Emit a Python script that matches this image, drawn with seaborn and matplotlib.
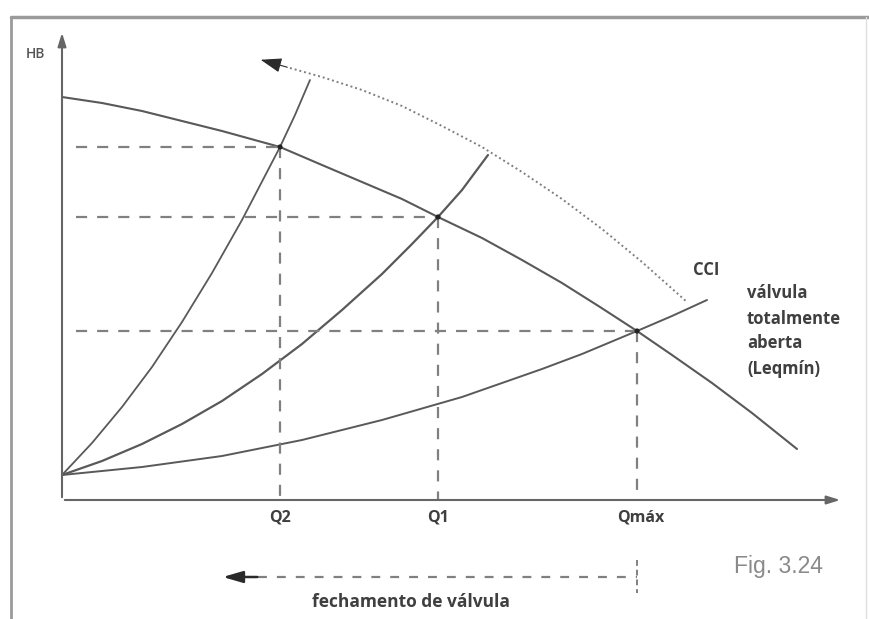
"""Curva da bomba x curvas do sistema (fechamento de válvula)"""

import matplotlib.pyplot as plt
import numpy as np
import pandas as pd
import seaborn as sns
from matplotlib.lines import Line2D

# curva da bomba HB(Q) (unidades arbitrarias)
pump_q = [0, 4, 8, 12, 16, 21.8, 26, 30, 34, 37.6, 42, 46, 50, 53.8, 57.5,
          61, 65, 69, 73.5]
pump_h = [40.3, 39.7, 38.9, 37.9, 36.9, 35.3, 33.5, 31.8, 30.1, 28.3, 26.2,
          24.0, 21.7, 19.3, 16.9, 14.5, 11.7, 8.7, 5.1]

# curvas do sistema (valvula parcialmente fechada -> totalmente aberta)
sys2_q = [0, 3, 6, 9, 12, 15, 18, 21.8, 23.3, 24.8]
sys2_h = [2.5, 5.7, 9.3, 13.3, 17.8, 22.7, 28.0, 35.3, 38.5, 42.0]
sys1_q = [0, 4, 8, 12, 16, 20, 24, 28, 32, 35, 37.6, 40, 42.6]
sys1_h = [2.5, 3.9, 5.6, 7.6, 9.9, 12.6, 15.6, 19.0, 22.6, 25.6, 28.3, 31.0,
          34.5]
cci_q = [0, 8, 16, 24, 32, 40, 48, 52, 57.5, 61, 64.5]
cci_h = [2.5, 3.3, 4.4, 6.0, 8.0, 10.3, 13.1, 14.6, 16.9, 18.4, 20.0]

# curva pontilhada (extremos das curvas do sistema)
dot_q = [22.8, 26, 30, 34, 38, 42, 46, 50, 54, 58, 62.5]
dot_h = [43.2, 42.3, 41.0, 39.4, 37.4, 35.3, 32.8, 30.1, 27.1, 23.8, 19.8]

# pontos de operacao
op_labels = ["Q2", "Q1", "Qmáx"]
op_q = [21.8, 37.6, 57.5]
op_h = [35.3, 28.3, 16.9]

sns.set_style("white")
plt.rcParams["font.family"] = ["Open Sans", "DejaVu Sans"]

fig = plt.figure(figsize=(8.69, 6.19), dpi=100)
ax = fig.add_axes([0, 0, 1, 1])
ax.set_xlim(-6.2, 80.7)
ax.set_ylim(-11.9, 50.0)
ax.axis("off")

line_c = "#595959"
dash_c = "#808080"

curves = pd.concat(
    [
        pd.DataFrame({"Q": pump_q, "H": pump_h, "curva": "bomba"}),
        pd.DataFrame({"Q": sys2_q, "H": sys2_h, "curva": "s2"}),
        pd.DataFrame({"Q": sys1_q, "H": sys1_h, "curva": "s1"}),
        pd.DataFrame({"Q": cci_q, "H": cci_h, "curva": "cci"}),
    ]
)
widths = {"bomba": 1.5, "s2": 1.3, "s1": 1.6, "cci": 1.4}
for name, grp in curves.groupby("curva", sort=False):
    sns.lineplot(data=grp, x="Q", y="H", ax=ax, color=line_c,
                 lw=widths[name], estimator=None, sort=False, legend=False)

sns.lineplot(x=dot_q, y=dot_h, ax=ax, color="#7f7f7f", lw=1.4,
             linestyle=(0, (1, 1.5)), estimator=None, sort=False)
ax.annotate("", xy=(19.6, 44.1), xytext=(dot_q[0], dot_h[0]),
            arrowprops=dict(arrowstyle="-|>,head_length=1.3,head_width=0.45",
                            color="#2a2a2a", lw=0.8))

# linhas de chamada tracejadas
for q, h in zip(op_q, op_h):
    ax.plot([1.4, q], [h, h], color=dash_c, lw=1.6, dashes=(5, 4.5))
    ax.plot([q, q], [h, 0], color=dash_c, lw=1.6, dashes=(5, 4.5))
sns.scatterplot(x=op_q, y=op_h, ax=ax, color="#222222", s=14,
                edgecolor="none", zorder=5)

# eixos com setas
ax.annotate("", xy=(0, 47.0), xytext=(0, 0),
            arrowprops=dict(arrowstyle="-|>,head_length=0.8,head_width=0.25",
                            color="#666666", lw=1.5))
ax.annotate("", xy=(78.1, 0), xytext=(0, 0),
            arrowprops=dict(arrowstyle="-|>,head_length=0.8,head_width=0.25",
                            color="#666666", lw=1.5))

txt = dict(color="#3f3f3f", fontweight="bold")
ax.text(-2.7, 44.6, "HB", fontsize=10, ha="center", va="center",
        color="#555555", fontweight="semibold")
for lab, q in zip(op_labels, op_q):
    ax.text(q + (0.4 if lab == "Qmáx" else 0), -1.8, lab, fontsize=11.5,
            ha="center", va="center", **txt)
ax.text(64.4, 23.0, "CCI", fontsize=12, ha="center", va="center", **txt)
ax.text(68.5, 16.9, "válvula\ntotalmente\naberta\n(Leqmín)", fontsize=12,
        ha="left", va="center", linespacing=1.5, **txt)

# fechamento de valvula
ax.plot([19.6, 57.5], [-7.7, -7.7], color=dash_c, lw=1.6, dashes=(4, 4.5))
ax.annotate("", xy=(15.8, -7.7), xytext=(19.8, -7.7),
            arrowprops=dict(arrowstyle="-|>,head_length=1.2,head_width=0.35",
                            color="#2a2a2a", lw=1.8))
ax.plot([57.5, 57.5], [-6.0, -9.3], color=dash_c, lw=1.4, dashes=(3, 2))
ax.text(34.9, -10.2, "fechamento de válvula", fontsize=12.5, ha="center",
        va="center", **txt)

ax.text(71.6, -6.6, "Fig. 3.24", fontsize=16.5, ha="center", va="center",
        color="#8a8a8a", family=["Liberation Sans", "DejaVu Sans"])

# moldura da pagina
fig.add_artist(Line2D([11 / 869, 11 / 869], [0, 1 - 17 / 619],
                      transform=fig.transFigure, color="#9a9a9a", lw=2))
fig.add_artist(Line2D([11 / 869, 1], [1 - 17 / 619, 1 - 17 / 619],
                      transform=fig.transFigure, color="#9a9a9a", lw=2.5))
fig.add_artist(Line2D([866 / 869, 866 / 869], [0, 1 - 17 / 619],
                      transform=fig.transFigure, color="#e0e0e0", lw=1))

fig.savefig("out.png", dpi=100)
